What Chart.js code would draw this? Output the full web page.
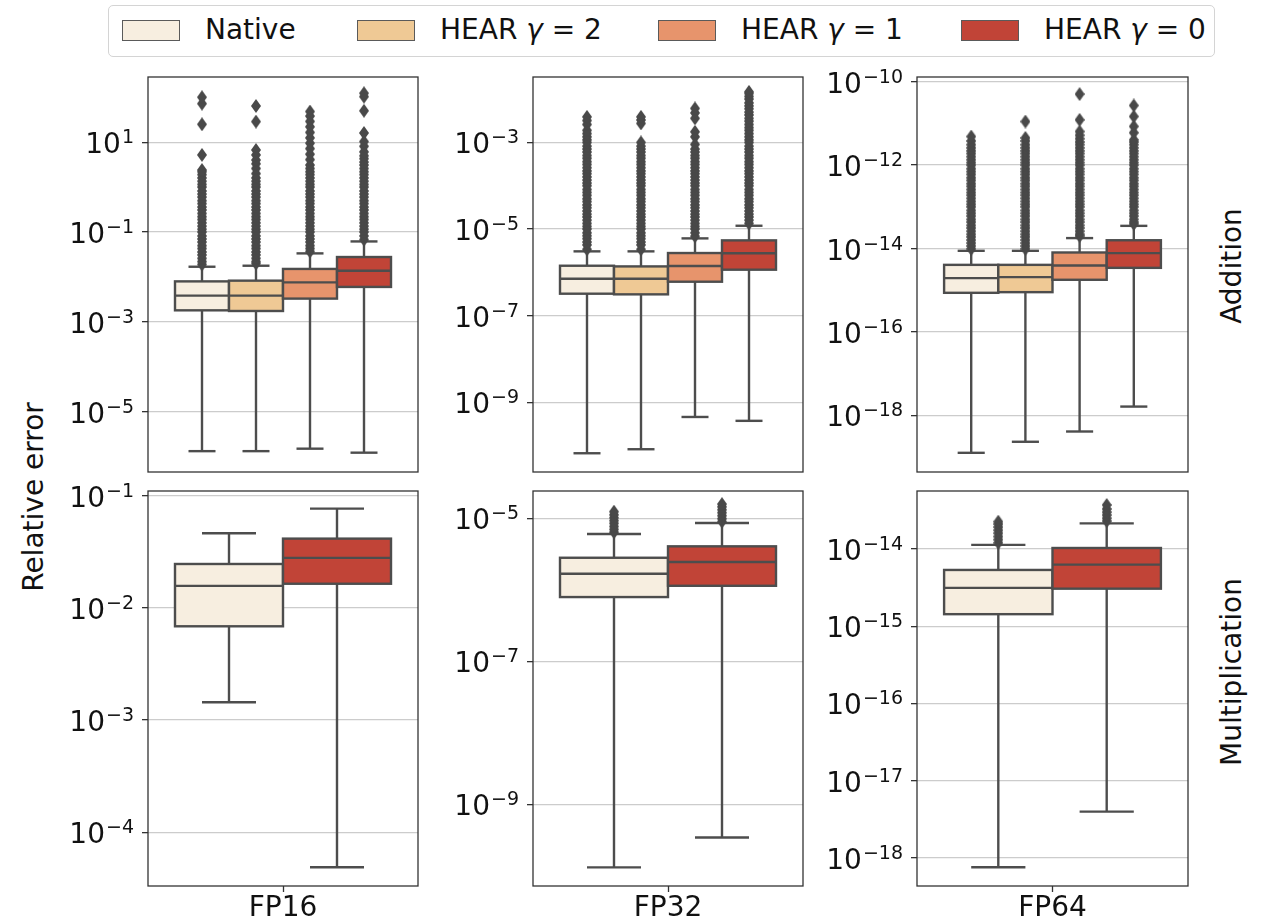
<!DOCTYPE html>
<html>
<head>
<meta charset="utf-8">
<script src="https://cdn.jsdelivr.net/npm/chart.js@4.4.1/dist/chart.umd.min.js"></script>
<style>
  body { margin: 0; width: 1263px; height: 924px; position: relative; overflow: hidden; background: #fff; font-family: 'DejaVu Sans', sans-serif; color: #111; }
  canvas { position: absolute; }
  #legend { position: absolute; left: 108px; top: 5px; width: 1107px; height: 52px; border: 1px solid #d4d4d4; border-radius: 5px; box-sizing: border-box; }
  .patch { position: absolute; top: 14px; width: 58px; height: 21px; border: 1.4px solid #5a5a5a; box-sizing: border-box; }
  .ltext { position: absolute; top: 10px; font-size: 28px; line-height: 28px; white-space: nowrap; }
  .rot { position: absolute; width: 300px; height: 28px; font-size: 28px; line-height: 28px; text-align: center; transform: rotate(-90deg); white-space: nowrap; }
</style>
</head>
<body>
<div id="legend"></div>
<div class="rot" id="ylabel"></div>
<div class="rot" id="row-add"></div>
<div class="rot" id="row-mul"></div>
<canvas id="add-fp16"></canvas>
<canvas id="add-fp32"></canvas>
<canvas id="add-fp64"></canvas>
<canvas id="mul-fp16"></canvas>
<canvas id="mul-fp32"></canvas>
<canvas id="mul-fp64"></canvas>
<script>
const hueNames = ['Native', 'HEAR γ = 2', 'HEAR γ = 1', 'HEAR γ = 0'];
const hueColors = ['#f7eee0', '#efc995', '#e7946c', '#c14437'];
const precisions = ['FP16', 'FP32', 'FP64'];
const operations = ['Addition', 'Multiplication'];

// box stats per hue: [lower whisker, q1, median, q3, upper whisker]
const addFp16Stats = [
  [1.33e-6, 1.81e-3, 3.84e-3, 7.98e-3, 1.69e-2],
  [1.33e-6, 1.75e-3, 3.84e-3, 8.28e-3, 1.78e-2],
  [1.51e-6, 3.30e-3, 7.59e-3, 1.51e-2, 3.35e-2],
  [1.23e-6, 6.0e-3, 1.38e-2, 2.78e-2, 6.18e-2],
];
const addFp16Outliers = [
  [1.9e-2, 2.2e-2, 2.6e-2, 3.1e-2, 3.6e-2, 4.3e-2, 5.0e-2, 6.0e-2, 7.0e-2, 8.2e-2,
    0.1, 0.115, 0.135, 0.16, 0.19, 0.22, 0.26, 0.31, 0.36, 0.43, 0.5, 0.6, 0.7, 0.82,
    1.0, 1.15, 1.35, 1.6, 1.9, 2.2, 2.4, 5.2, 25, 72, 100],
  [2.0e-2, 2.2e-2, 2.6e-2, 3.1e-2, 3.6e-2, 4.3e-2, 5.0e-2, 6.0e-2, 7.0e-2, 8.2e-2,
    0.1, 0.115, 0.135, 0.16, 0.19, 0.22, 0.26, 0.31, 0.36, 0.43, 0.5, 0.6, 0.7, 0.82,
    1.0, 1.15, 1.35, 1.6, 2.0, 2.6, 3.3, 4.0, 5.2, 6.7, 28.7, 64],
  [3.7e-2, 4.3e-2, 5.0e-2, 6.0e-2, 7.0e-2, 8.2e-2,
    0.1, 0.115, 0.135, 0.16, 0.19, 0.22, 0.26, 0.31, 0.36, 0.43, 0.5, 0.6, 0.7, 0.82,
    1.0, 1.15, 1.35, 1.6, 1.9, 2.2, 2.6, 3.1, 4.1, 5.4, 7.2, 9.5, 12.5, 16.5, 22, 29, 38, 48],
  [6.8e-2, 8.2e-2,
    0.1, 0.115, 0.135, 0.16, 0.19, 0.22, 0.26, 0.31, 0.36, 0.43, 0.5, 0.6, 0.7, 0.82,
    1.0, 1.15, 1.35, 1.6, 1.9, 2.2, 2.6, 3.1, 3.6, 4.3, 5.0, 6.1, 8.1, 10.3, 16, 50, 103, 123],
];

const addFp32Stats = [
  [6.64e-11, 3.21e-7, 7.11e-7, 1.42e-6, 3.05e-6],
  [8.22e-11, 3.10e-7, 7.11e-7, 1.37e-6, 3.05e-6],
  [4.57e-10, 6.07e-7, 1.40e-6, 2.79e-6, 6.08e-6],
  [3.72e-10, 1.15e-6, 2.75e-6, 5.47e-6, 1.19e-5],
];
const addFp32Outliers = [
  [3.4e-6, 4.3e-6, 5.0e-6, 6.0e-6, 7.0e-6, 8.2e-6,
    1.0e-5, 1.15e-5, 1.35e-5, 1.6e-5, 1.9e-5, 2.2e-5, 2.6e-5, 3.1e-5, 3.6e-5, 4.3e-5, 5.0e-5, 6.0e-5, 7.0e-5, 8.2e-5,
    1.0e-4, 1.15e-4, 1.35e-4, 1.6e-4, 1.9e-4, 2.2e-4, 2.6e-4, 3.1e-4, 3.6e-4, 4.3e-4, 5.0e-4, 6.0e-4, 7.0e-4, 8.2e-4,
    1.0e-3, 1.15e-3, 1.35e-3, 1.6e-3, 1.9e-3, 2.6e-3, 3.2e-3, 3.9e-3],
  [3.4e-6, 4.3e-6, 5.0e-6, 6.0e-6, 7.0e-6, 8.2e-6,
    1.0e-5, 1.15e-5, 1.35e-5, 1.6e-5, 1.9e-5, 2.2e-5, 2.6e-5, 3.1e-5, 3.6e-5, 4.3e-5, 5.0e-5, 6.0e-5, 7.0e-5, 8.2e-5,
    1.0e-4, 1.15e-4, 1.35e-4, 1.6e-4, 1.9e-4, 2.2e-4, 2.6e-4, 3.1e-4, 3.6e-4, 4.3e-4, 5.0e-4, 6.0e-4, 7.0e-4, 8.2e-4,
    1.0e-3, 2.75e-3, 3.3e-3, 3.9e-3],
  [6.8e-6, 8.2e-6,
    1.0e-5, 1.15e-5, 1.35e-5, 1.6e-5, 1.9e-5, 2.2e-5, 2.6e-5, 3.1e-5, 3.6e-5, 4.3e-5, 5.0e-5, 6.0e-5, 7.0e-5, 8.2e-5,
    1.0e-4, 1.15e-4, 1.35e-4, 1.6e-4, 1.9e-4, 2.2e-4, 2.6e-4, 3.1e-4, 3.6e-4, 4.3e-4, 5.0e-4, 6.0e-4, 7.0e-4,
    9.0e-4, 1.35e-3, 1.76e-3, 3.6e-3, 4.8e-3, 6.1e-3],
  [1.35e-5, 1.6e-5, 1.9e-5, 2.2e-5, 2.6e-5, 3.1e-5, 3.6e-5, 4.3e-5, 5.0e-5, 6.0e-5, 7.0e-5, 8.2e-5,
    1.0e-4, 1.15e-4, 1.35e-4, 1.6e-4, 1.9e-4, 2.2e-4, 2.6e-4, 3.1e-4, 3.6e-4, 4.3e-4, 5.0e-4, 6.0e-4, 7.0e-4, 8.2e-4,
    1.0e-3, 1.15e-3, 1.35e-3, 1.6e-3, 1.9e-3, 2.2e-3, 2.6e-3, 3.1e-3, 3.6e-3, 4.3e-3, 5.0e-3, 6.0e-3, 7.0e-3, 8.2e-3,
    1.0e-2, 1.15e-2, 1.35e-2, 1.47e-2],
];

const addFp64Stats = [
  [1.26e-19, 8.67e-16, 1.95e-15, 4.06e-15, 8.81e-15],
  [2.32e-19, 8.99e-16, 2.06e-15, 4.06e-15, 8.81e-15],
  [4.09e-19, 1.78e-15, 3.92e-15, 8.04e-15, 1.78e-14],
  [1.62e-18, 3.44e-15, 7.76e-15, 1.58e-14, 3.50e-14],
];
const addFp64Outliers = [
  [9.8e-15, 1.15e-14, 1.35e-14, 1.6e-14, 1.9e-14, 2.2e-14, 2.6e-14, 3.1e-14, 3.6e-14, 4.3e-14, 5.0e-14, 6.0e-14, 7.0e-14, 8.2e-14,
    1.0e-13, 1.15e-13, 1.35e-13, 1.6e-13, 1.9e-13, 2.2e-13, 2.6e-13, 3.1e-13, 3.6e-13, 4.3e-13, 5.0e-13, 6.0e-13, 7.0e-13, 8.2e-13,
    1.0e-12, 1.15e-12, 1.35e-12, 1.6e-12, 1.9e-12, 2.2e-12, 2.6e-12, 3.1e-12, 3.8e-12, 4.85e-12],
  [9.8e-15, 1.15e-14, 1.35e-14, 1.6e-14, 1.9e-14, 2.2e-14, 2.6e-14, 3.1e-14, 3.6e-14, 4.3e-14, 5.0e-14, 6.0e-14, 7.0e-14, 8.2e-14,
    1.0e-13, 1.15e-13, 1.35e-13, 1.6e-13, 1.9e-13, 2.2e-13, 2.6e-13, 3.1e-13, 3.6e-13, 4.3e-13, 5.0e-13, 6.0e-13, 7.0e-13, 8.2e-13,
    1.0e-12, 1.15e-12, 1.35e-12, 1.6e-12, 1.9e-12, 2.2e-12, 2.6e-12, 3.1e-12, 3.8e-12, 4.5e-12, 1.11e-11],
  [2.0e-14, 2.2e-14, 2.6e-14, 3.1e-14, 3.6e-14, 4.3e-14, 5.0e-14, 6.0e-14, 7.0e-14, 8.2e-14,
    1.0e-13, 1.15e-13, 1.35e-13, 1.6e-13, 1.9e-13, 2.2e-13, 2.6e-13, 3.1e-13, 3.6e-13, 4.3e-13, 5.0e-13, 6.0e-13, 7.0e-13, 8.2e-13,
    1.0e-12, 1.15e-12, 1.35e-12, 1.6e-12, 1.9e-12, 2.2e-12, 2.6e-12, 3.1e-12, 3.6e-12, 4.3e-12, 5.2e-12, 6.4e-12, 1.22e-11, 5.05e-11],
  [3.9e-14, 4.3e-14, 5.0e-14, 6.0e-14, 7.0e-14, 8.2e-14,
    1.0e-13, 1.15e-13, 1.35e-13, 1.6e-13, 1.9e-13, 2.2e-13, 2.6e-13, 3.1e-13, 3.6e-13, 4.3e-13, 5.0e-13, 6.0e-13, 7.0e-13, 8.2e-13,
    1.0e-12, 1.15e-12, 1.35e-12, 1.6e-12, 1.9e-12, 2.2e-12, 2.6e-12, 3.1e-12, 3.6e-12, 4.05e-12, 6.0e-12, 8.5e-12, 1.47e-11, 2.7e-11],
];

// multiplication only has Native and HEAR γ = 0
const mulHues = [0, 3];
const mulFp16Stats = [
  [1.44e-3, 6.85e-3, 1.57e-2, 2.46e-2, 4.62e-2],
  [4.88e-5, 1.64e-2, 2.79e-2, 4.14e-2, 7.66e-2],
];
const mulFp16Outliers = [[], []];

const mulFp32Stats = [
  [1.32e-10, 7.93e-7, 1.68e-6, 2.81e-6, 6.03e-6],
  [3.45e-10, 1.14e-6, 2.45e-6, 4.06e-6, 8.59e-6],
];
const mulFp32Outliers = [
  [6.4e-6, 7.0e-6, 7.7e-6, 8.5e-6, 9.3e-6, 1.02e-5, 1.12e-5, 1.24e-5],
  [9.0e-6, 9.9e-6, 1.09e-5, 1.2e-5, 1.32e-5, 1.45e-5, 1.58e-5],
];

const mulFp64Stats = [
  [7.53e-19, 1.43e-15, 3.13e-15, 5.35e-15, 1.13e-14],
  [3.95e-18, 3.06e-15, 6.27e-15, 1.03e-14, 2.15e-14],
];
const mulFp64Outliers = [
  [1.2e-14, 1.32e-14, 1.45e-14, 1.6e-14, 1.75e-14, 1.92e-14, 2.1e-14, 2.26e-14],
  [2.3e-14, 2.5e-14, 2.75e-14, 3.0e-14, 3.3e-14, 3.72e-14],
];

// y axis limits and tick values
const addFp16Range = [4.57e-7, 282];
const addFp32Range = [2.45e-11, 3.24e-2];
const addFp64Range = [4.37e-20, 1.30e-10];
const mulFp16Range = [3.32e-5, 0.110];
const mulFp32Range = [7.24e-11, 2.41e-5];
const mulFp64Range = [4.30e-19, 5.64e-14];

const addFp16Ticks = [1e-5, 1e-3, 1e-1, 1e1];
const addFp32Ticks = [1e-9, 1e-7, 1e-5, 1e-3];
const addFp64Ticks = [1e-18, 1e-16, 1e-14, 1e-12, 1e-10];
const mulFp16Ticks = [1e-4, 1e-3, 1e-2, 1e-1];
const mulFp32Ticks = [1e-9, 1e-7, 1e-5];
const mulFp64Ticks = [1e-18, 1e-17, 1e-16, 1e-15, 1e-14];

const EDGE = '#4d4d4d';
const FONT = "'DejaVu Sans'";

// legend + margin titles
const legendPatchX = [121, 356, 657, 960];
const legendEl = document.getElementById('legend');
hueNames.forEach((name, i) => {
  const patch = document.createElement('div');
  patch.className = 'patch';
  patch.style.left = `${legendPatchX[i] - 108}px`;
  patch.style.background = hueColors[i];
  legendEl.appendChild(patch);
  const text = document.createElement('div');
  text.className = 'ltext';
  text.style.left = `${legendPatchX[i] + 83 - 108}px`;
  text.innerHTML = i === 0 ? name : name.replace('γ', '<i>γ</i>');
  legendEl.appendChild(text);
});

function placeRotated(id, text, cx, cy) {
  const el = document.getElementById(id);
  el.textContent = text;
  el.style.left = `${cx - 150}px`;
  el.style.top = `${cy - 14}px`;
}
placeRotated('ylabel', 'Relative error', 34, 497);
placeRotated('row-add', operations[0], 1232, 266);
placeRotated('row-mul', operations[1], 1232, 672);

function thinDiamond(w, h, color) {
  const c = document.createElement('canvas');
  c.width = w;
  c.height = h;
  const g = c.getContext('2d');
  g.fillStyle = color;
  g.beginPath();
  g.moveTo(w / 2, 0);
  g.lineTo(w, h / 2);
  g.lineTo(w / 2, h);
  g.lineTo(0, h / 2);
  g.closePath();
  g.fill();
  return c;
}
const diamond = thinDiamond(10, 14, '#494949');

function boxPlugin(stats, positions, width, colors) {
  return {
    id: 'boxes',
    beforeDatasetsDraw(chart) {
      const { ctx, scales: { x, y } } = chart;
      ctx.save();
      ctx.strokeStyle = EDGE;
      ctx.lineWidth = 2.4;
      const line = (x0, y0, x1, y1) => {
        ctx.beginPath();
        ctx.moveTo(x0, y0);
        ctx.lineTo(x1, y1);
        ctx.stroke();
      };
      stats.forEach((s, i) => {
        const pos = positions[i];
        const left = x.getPixelForValue(pos - width / 2);
        const right = x.getPixelForValue(pos + width / 2);
        const mid = x.getPixelForValue(pos);
        const capL = x.getPixelForValue(pos - width / 4);
        const capR = x.getPixelForValue(pos + width / 4);
        const [lo, q1, med, q3, hi] = s.map((v) => y.getPixelForValue(v));
        line(mid, q1, mid, lo);
        line(mid, q3, mid, hi);
        line(capL, lo, capR, lo);
        line(capL, hi, capR, hi);
        ctx.fillStyle = colors[i];
        ctx.fillRect(left, q3, right - left, q1 - q3);
        ctx.strokeRect(left, q3, right - left, q1 - q3);
        line(left, med, right, med);
      });
      ctx.restore();
    },
    afterDraw(chart) {
      const { ctx, chartArea: a, scales: { y } } = chart;
      ctx.save();
      // spines
      ctx.strokeStyle = '#333';
      ctx.lineWidth = 1.3;
      ctx.strokeRect(a.left, a.top, a.right - a.left, a.bottom - a.top);
      // 10^n tick labels
      ctx.fillStyle = '#111';
      ctx.textAlign = 'right';
      ctx.textBaseline = 'alphabetic';
      y.ticks.forEach((t) => {
        const gy = y.getPixelForValue(t.value);
        const exp = Math.round(Math.log10(t.value));
        const sup = `${exp < 0 ? '\u2212' : ''}${Math.abs(exp)}`;
        ctx.font = `19px ${FONT}`;
        const supW = ctx.measureText(sup).width;
        ctx.fillText(sup, a.left - 14, gy + 1);
        ctx.font = `28px ${FONT}`;
        ctx.fillText('10', a.left - 15 - supW, gy + 11);
      });
      ctx.restore();
    },
  };
}

function makePanel(id, geom, cfg) {
  const padL = 140, padT = 14, padR = 10, axisH = 48;
  const canvas = document.getElementById(id);
  const w = geom.right - geom.left + padL + padR;
  const h = geom.bottom - geom.top + padT + axisH;
  canvas.width = w;
  canvas.height = h;
  canvas.style.width = `${w}px`;
  canvas.style.height = `${h}px`;
  canvas.style.left = `${geom.left - padL}px`;
  canvas.style.top = `${geom.top - padT}px`;

  const datasets = cfg.outliers.map((vals, i) => ({
    data: vals.map((v) => ({ x: cfg.positions[i], y: v })),
    pointStyle: diamond,
    pointRadius: 5,
    backgroundColor: '#494949',
    borderColor: '#494949',
  }));

  return new Chart(canvas, {
    type: 'scatter',
    data: { datasets },
    options: {
      responsive: false,
      animation: false,
      devicePixelRatio: 1,
      layout: { padding: { top: padT, right: padR, left: 0, bottom: 0 } },
      plugins: { legend: { display: false }, tooltip: { enabled: false } },
      scales: {
        x: {
          type: 'linear',
          min: -0.5,
          max: 0.5,
          afterFit: (scale) => { scale.height = axisH; },
          afterBuildTicks: (scale) => { scale.ticks = [{ value: 0 }]; },
          ticks: {
            display: cfg.xLabel !== null,
            callback: () => cfg.xLabel,
            font: { family: FONT, size: 28 },
            color: '#111',
            padding: 0,
          },
          grid: { drawOnChartArea: false, drawTicks: cfg.xLabel !== null, tickLength: 6, tickColor: '#333', tickWidth: 1.3 },
          border: { display: false },
        },
        y: {
          type: 'logarithmic',
          min: cfg.range[0],
          max: cfg.range[1],
          afterFit: (scale) => { scale.width = padL; },
          afterBuildTicks: (scale) => { scale.ticks = cfg.ticks.map((v) => ({ value: v })); },
          ticks: { display: false },
          grid: { color: '#cccccc', lineWidth: 1.3, tickLength: 6, tickColor: '#333', tickWidth: 1.3 },
          border: { display: false },
        },
      },
    },
    plugins: [boxPlugin(cfg.stats, cfg.positions, cfg.width, cfg.colors)],
  });
}

const topRow = { top: 77, bottom: 472 };
const bottomRow = { top: 491, bottom: 886 };
const columns = [{ left: 148, right: 418 }, { left: 533, right: 803 }, { left: 917, right: 1188 }];
const addPositions = [-0.3, -0.1, 0.1, 0.3];
const mulPositions = [-0.2, 0.2];
const mulColors = mulHues.map((h) => hueColors[h]);

makePanel('add-fp16', { ...columns[0], ...topRow }, { stats: addFp16Stats, outliers: addFp16Outliers, range: addFp16Range, ticks: addFp16Ticks, positions: addPositions, width: 0.2, colors: hueColors, xLabel: null });
makePanel('add-fp32', { ...columns[1], ...topRow }, { stats: addFp32Stats, outliers: addFp32Outliers, range: addFp32Range, ticks: addFp32Ticks, positions: addPositions, width: 0.2, colors: hueColors, xLabel: null });
makePanel('add-fp64', { ...columns[2], ...topRow }, { stats: addFp64Stats, outliers: addFp64Outliers, range: addFp64Range, ticks: addFp64Ticks, positions: addPositions, width: 0.2, colors: hueColors, xLabel: null });
makePanel('mul-fp16', { ...columns[0], ...bottomRow }, { stats: mulFp16Stats, outliers: mulFp16Outliers, range: mulFp16Range, ticks: mulFp16Ticks, positions: mulPositions, width: 0.4, colors: mulColors, xLabel: precisions[0] });
makePanel('mul-fp32', { ...columns[1], ...bottomRow }, { stats: mulFp32Stats, outliers: mulFp32Outliers, range: mulFp32Range, ticks: mulFp32Ticks, positions: mulPositions, width: 0.4, colors: mulColors, xLabel: precisions[1] });
makePanel('mul-fp64', { ...columns[2], ...bottomRow }, { stats: mulFp64Stats, outliers: mulFp64Outliers, range: mulFp64Range, ticks: mulFp64Ticks, positions: mulPositions, width: 0.4, colors: mulColors, xLabel: precisions[2] });
</script>
</body>
</html>
